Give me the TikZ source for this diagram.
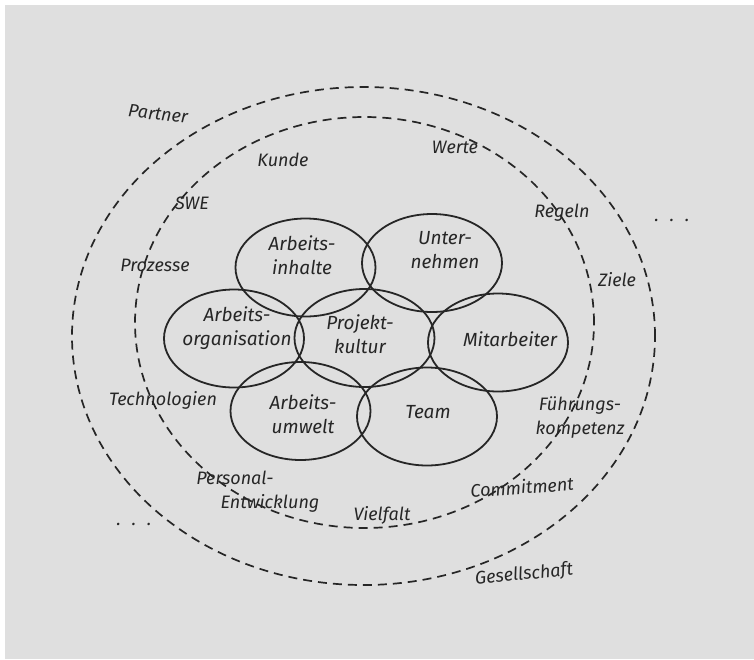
\documentclass[tikz,border=0pt]{standalone}
\usepackage{fontspec}
\setmainfont{Fira Sans}
\usetikzlibrary{shapes.geometric}
\definecolor{paper}{RGB}{223,223,223}
\definecolor{ink}{RGB}{38,38,38}
\begin{document}
\begin{tikzpicture}[x=1pt,y=-1pt,
  blob/.style={draw=ink, line width=1.8pt, ellipse, minimum width=140pt, minimum height=98pt, inner sep=0pt},
  lbl/.style={text=ink, font=\fontsize{18}{24}\selectfont\itshape, align=center, inner sep=0pt},
  inlbl/.style={lbl, font=\fontsize{19}{24}\selectfont\itshape},
  ring/.style={draw=ink, line width=1.7pt, dash pattern=on 9pt off 6pt}]
\fill[white] (0,0) rectangle (754,659);
\fill[paper] (5,5) rectangle (754,659);
\useasboundingbox (0,0) rectangle (754,659);
% dashed rings
\draw[ring] (363.5,336) ellipse [x radius=291.5pt, y radius=249pt];
\draw[ring] (364.5,322.5) ellipse [x radius=229.5pt, y radius=205.5pt];
% seven ellipses
\node[blob] (inh) at (305.5,267.5) {};
\node[blob] (unt) at (432,263) {};
\node[blob] (org) at (234,338.5) {};
\node[blob] (pro) at (364.5,338) {};
\node[blob] (mit) at (498,342.5) {};
\node[blob] (umw) at (300.5,411) {};
\node[blob] (tea) at (427,416.5) {};
% ellipse labels
\node[inlbl] (inhT) at (302,255) {Arbeits-\\inhalte};
\node[inlbl] (untT) at (445,250) {Unter-\\nehmen};
\node[inlbl] (orgT) at (237,328) {Arbeits-\\organisation};
\node[inlbl] (proT) at (360,334) {Projekt-\\kultur};
\node[inlbl] (mitT) at (510,339) {Mitarbeiter};
\node[inlbl] (umwT) at (303,414) {Arbeits-\\umwelt};
\node[inlbl] (teaT) at (428,412) {Team};
% ring labels
\node[lbl, rotate=-6] (partner) at (158,114) {Partner};
\node[lbl] (kunde) at (283,160) {Kunde};
\node[lbl] (swe) at (192,203) {SWE};
\node[lbl] (proz) at (155,265) {Prozesse};
\node[lbl] (werte) at (455,147) {Werte};
\node[lbl] (regeln) at (562,213) {Regeln};
\node[lbl] (dotsR) at (672,220) {.\hspace{11pt}.\hspace{11pt}.};
\node[lbl] (ziele) at (617,280) {Ziele};
\node[lbl] (fuehr) at (580,418) {Führungs-\\kompetenz};
\node[lbl] (tech) at (163,400) {Technologien};
\node[lbl] (pers) at (235,478) {Personal-};
\node[lbl] (entw) at (270,503) {Entwicklung};
\node[lbl] (viel) at (382,515) {Vielfalt};
\node[lbl, rotate=4] (comm) at (522,487) {Commitment};
\node[lbl, rotate=6] (ges) at (524,575) {Gesellschaft};
\node[lbl] (dotsL) at (134,524) {.\hspace{11pt}.\hspace{11pt}.};
\end{tikzpicture}
\end{document}
